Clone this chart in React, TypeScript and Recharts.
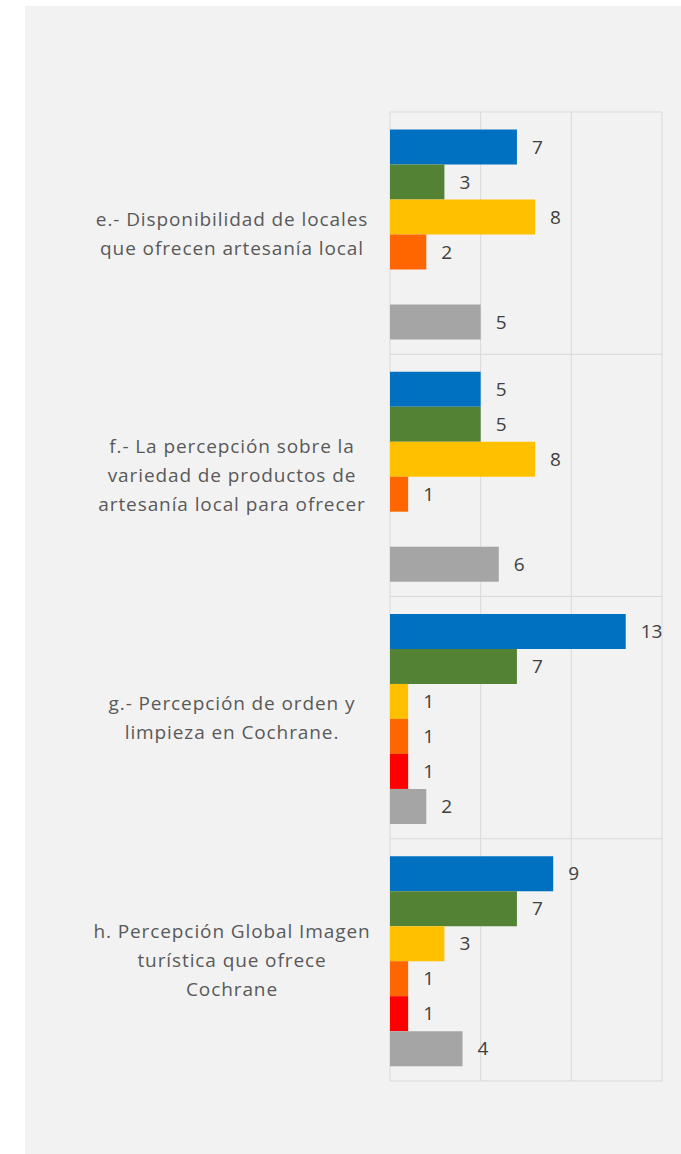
import { BarChart, Bar, XAxis, YAxis, CartesianGrid, LabelList } from 'recharts'

// Categorías (saltos de línea como en el original)
const categories = [
  'e.- Disponibilidad de locales\nque ofrecen artesanía local',
  'f.- La percepción sobre la\nvariedad de productos de\nartesanía local para ofrecer',
  'g.- Percepción de orden y\nlimpieza en Cochrane.',
  'h. Percepción Global Imagen\nturística que ofrece\nCochrane',
]

const serieAzul = [7, 5, 13, 9]
const serieVerde = [3, 5, 7, 7]
const serieAmarilla = [8, 8, 1, 3]
const serieNaranja = [2, 1, 1, 1]
const serieRoja = [null, null, 1, 1]
const serieGris = [5, 6, 2, 4]

const xTicks = [0, 5, 10, 15]

const FONT = "'Open Sans', sans-serif"

const series = [
  { key: 'azul', values: serieAzul, color: '#0070c0' },
  { key: 'verde', values: serieVerde, color: '#548235' },
  { key: 'amarilla', values: serieAmarilla, color: '#ffc000' },
  { key: 'naranja', values: serieNaranja, color: '#ff6600' },
  { key: 'roja', values: serieRoja, color: '#ff0000' },
  { key: 'gris', values: serieGris, color: '#a5a5a5' },
]

const data = categories.map((name, i) => {
  const row: Record<string, any> = { name }
  series.forEach((s) => (row[s.key] = s.values[i]))
  return row
})

// líneas horizontales en los límites de cada categoría (estilo Excel)
const categoryBoundaries = ({ offset }: any) =>
  Array.from({ length: categories.length + 1 }, (_, i) => offset.top + (offset.height * i) / categories.length)

const CategoryTick = ({ x, y, payload }: any) => {
  const lines = String(payload.value).split('\n')
  const lh = 29
  return (
    <g>
      {lines.map((line, i) => (
        <text
          key={i}
          x={x - 150}
          y={y + (i - (lines.length - 1) / 2) * lh}
          textAnchor="middle"
          dominantBaseline="central"
          fill="#595959"
          fontSize={19}
          letterSpacing={0.9}
          fontFamily={FONT}
        >
          {line}
        </text>
      ))}
    </g>
  )
}

export default function App() {
  return (
    <div
      style={{
        position: 'absolute',
        left: 25,
        top: 6,
        width: 656,
        height: 1148,
        background: '#f2f2f2',
      }}
    >
      <BarChart
        width={656}
        height={1148}
        data={data}
        layout="vertical"
        barCategoryGap="7.2%"
        barGap={0}
        margin={{ top: 106, right: 19, bottom: 73, left: 0 }}
      >
        <CartesianGrid stroke="#d9d9d9" horizontalCoordinatesGenerator={categoryBoundaries} />
        <XAxis type="number" domain={[0, 15]} ticks={xTicks} interval={0} hide />
        <YAxis
          type="category"
          dataKey="name"
          width={365}
          axisLine={false}
          tickLine={false}
          tick={<CategoryTick />}
          interval={0}
        />
        {series.map((s) => (
          <Bar key={s.key} dataKey={s.key} fill={s.color} isAnimationActive={false}>
            <LabelList
              dataKey={s.key}
              position="right"
              offset={15}
              fill="#404040"
              fontSize={19}
              fontFamily={FONT}
              formatter={(v: any) => (v == null ? '' : v)}
            />
          </Bar>
        ))}
      </BarChart>
    </div>
  )
}
